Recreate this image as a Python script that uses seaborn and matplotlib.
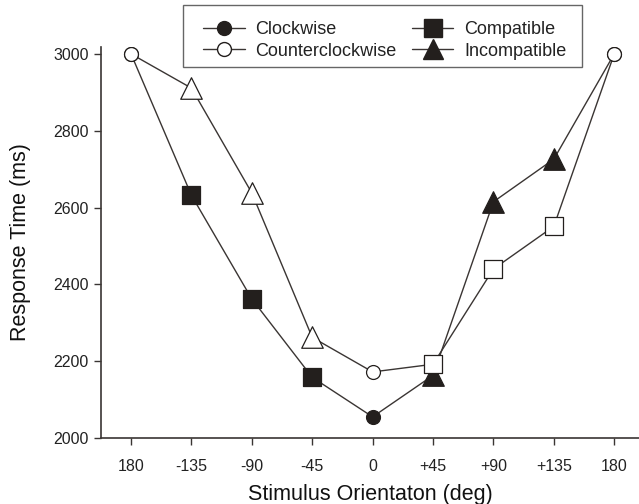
import pandas as pd
import numpy as np
import matplotlib.pyplot as plt
import seaborn as sns
from matplotlib.lines import Line2D
from matplotlib.patches import Rectangle

# tick labels on the x axis (stimulus orientation)
orientations = ["180", "-135", "-90", "-45", "0", "+45", "+90", "+135", "180"]

# response times
clockwise_rt = [3000, 2632, 2362, 2158, 2055, 2163, 2615, 2726, 3000]
counter_rt = [3000, 2911, 2638, 2262, 2172, 2192, 2440, 2551, 3000]

# marker condition per point
clockwise_cond = ["Upright", "Compatible", "Compatible", "Compatible", "Upright",
                  "Incompatible", "Incompatible", "Incompatible", "Upright"]
counter_cond = ["Upright", "Incompatible", "Incompatible", "Incompatible", "Upright",
                "Compatible", "Compatible", "Compatible", "Upright"]

pos = np.arange(len(orientations))
df = pd.concat([
    pd.DataFrame({"pos": pos, "rt": clockwise_rt, "cond": clockwise_cond, "dir": "Clockwise"}),
    pd.DataFrame({"pos": pos, "rt": counter_rt, "cond": counter_cond, "dir": "Counterclockwise"}),
], ignore_index=True)

sns.set_style("ticks")
plt.rcParams["font.family"] = ["Liberation Sans", "DejaVu Sans"]

W, H = 639, 504
fig = plt.figure(figsize=(W / 100, H / 100), dpi=100)
# axes spans x 101..639 px, y 47..438 px
ax = fig.add_axes([101 / W, 1 - 438 / H, 538 / W, 391 / H])

ink = "#231f1d"
line_col = "#3a3533"
sns.lineplot(data=df, x="pos", y="rt", units="dir", estimator=None, color=line_col,
             lw=1.0, ax=ax, legend=False, zorder=2)

markers = {"Upright": "o", "Compatible": "s", "Incompatible": "^"}
sizes = {"Upright": 100, "Compatible": 175, "Incompatible": 240}
fills = {"Clockwise": ink, "Counterclockwise": "white"}
for d in ["Clockwise", "Counterclockwise"]:
    for c in markers:
        sub = df[(df["dir"] == d) & (df["cond"] == c)]
        sns.scatterplot(data=sub, x="pos", y="rt", marker=markers[c], s=sizes[c],
                        color=fills[d], edgecolor=ink, linewidth=0.9,
                        ax=ax, legend=False, zorder=3)

ax.set_xlim(-0.497, 8.41)
ax.set_ylim(2000, 3018)
ax.set_xticks(pos)
ax.set_xticklabels(orientations)
ax.set_yticks(np.arange(2000, 3001, 200))
ax.tick_params(axis="both", labelsize=11.5, colors=line_col, length=5, width=1, labelcolor="#222222")
ax.tick_params(axis="x", pad=10)
ax.tick_params(axis="y", pad=4)
sns.despine(ax=ax)
for s in ["left", "bottom"]:
    ax.spines[s].set_color(line_col)
    ax.spines[s].set_linewidth(1.2)

ax.set_xlabel("Stimulus Orientaton (deg)", fontsize=15.5, labelpad=7, color="#111111")
ax.set_ylabel("Response Time (ms)", fontsize=15.5, labelpad=16, color="#111111")

# legend box drawn separately so the padding matches the original
fig.add_artist(Rectangle((183 / W, 1 - 67 / H), 399 / W, 62 / H, transform=fig.transFigure,
                         facecolor="white", edgecolor="#666666", lw=1.0, zorder=1))

mk = dict(color=line_col, lw=1.0, markeredgecolor=ink)
handles = [
    Line2D([], [], marker="o", markersize=10, markerfacecolor=ink, **mk),
    Line2D([], [], marker="o", markersize=10, markerfacecolor="white", **mk),
    Line2D([], [], marker="s", markersize=13, markerfacecolor=ink, **mk),
    Line2D([], [], marker="^", markersize=14, markerfacecolor=ink, **mk),
]
labels = ["Clockwise", "Counterclockwise", "Compatible", "Incompatible"]
leg = fig.legend(handles, labels, ncol=2, loc="upper left", bbox_to_anchor=(203 / W, 1 - 21 / H),
                 frameon=False, fontsize=13, handlelength=2.3,
                 columnspacing=0.85, handletextpad=0.6, borderpad=0, labelspacing=0.25,
                 borderaxespad=0)
for t in leg.get_texts():
    t.set_color("#222222")

fig.savefig("out.png", dpi=100)
